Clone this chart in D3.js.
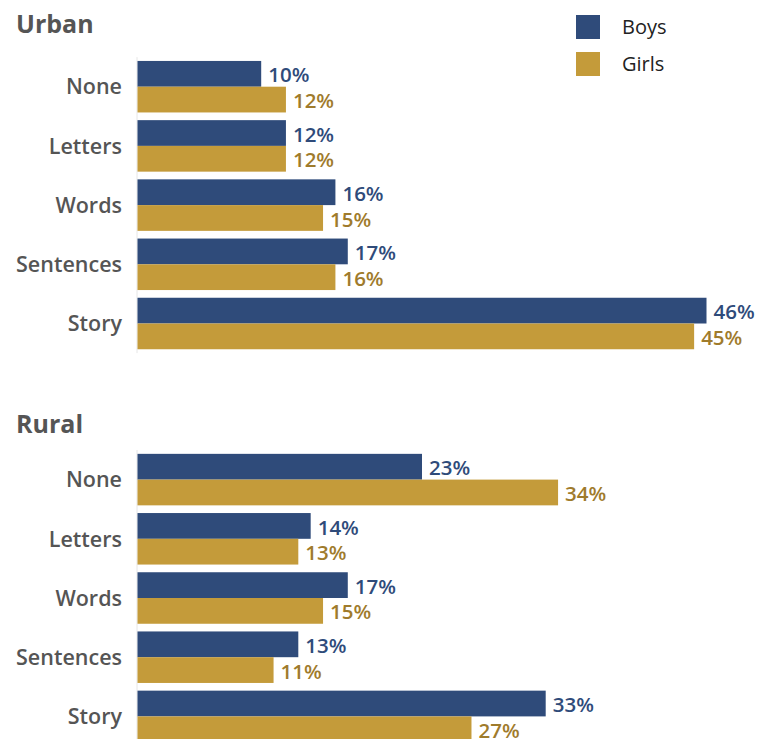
<!DOCTYPE html>
<html lang="en">
<head>
  <meta charset="utf-8">
  <title>Reading level by location</title>
  <script src="https://d3js.org/d3.v7.min.js"></script>
  <style>
    body { margin: 0; background: #fff; }
    text { font-family: "Open Sans", sans-serif; }
  </style>
</head>
<body>
<script>
// data
var categories = ["None", "Letters", "Words", "Sentences", "Story"];
var series = ["Boys", "Girls"];
var urbanBoys = [10, 12, 16, 17, 46];
var urbanGirls = [12, 12, 15, 16, 45];
var ruralBoys = [23, 14, 17, 13, 33];
var ruralGirls = [34, 13, 15, 11, 27];

var colors = {Boys: "#2f4b7a", Girls: "#c49b3a"};
var labelColors = {Boys: "#2f4b7a", Girls: "#9f7b2c"};

var width = 760, height = 739;
var axisX = 137.5;

var svg = d3.select("body")
  .append("svg")
  .attr("width", width)
  .attr("height", height);

// shared x scale (percent -> px)
var xScale = d3.scaleLinear()
  .domain([0, 46])
  .range([axisX, axisX + 569]);

function drawPanel(title, titleY, y0, y1, boys, girls) {
  var g = svg.append("g");

  g.append("text")
    .attr("x", 16)
    .attr("y", titleY)
    .attr("fill", "#555")
    .attr("font-size", "25px")
    .attr("font-weight", 700)
    .text(title);

  var yScale = d3.scaleBand()
    .domain(categories)
    .range([y0, y1])
    .paddingInner(0.13)
    .paddingOuter(0.065);

  var ySub = d3.scaleBand()
    .domain(series)
    .range([0, yScale.bandwidth()]);

  // thin axis line
  g.append("line")
    .attr("x1", axisX - 0.5).attr("x2", axisX - 0.5)
    .attr("y1", y0).attr("y2", y1)
    .attr("stroke", "#e6e6e6")
    .attr("stroke-width", 1);

  var rows = categories.map(function(c, i) {
    return {cat: c, values: [{s: "Boys", v: boys[i]}, {s: "Girls", v: girls[i]}]};
  });

  var row = g.selectAll(".row")
    .data(rows)
    .enter()
    .append("g")
    .attr("class", "row")
    .attr("transform", function(d) { return "translate(0," + yScale(d.cat) + ")"; });

  row.append("text")
    .attr("x", 122)
    .attr("y", yScale.bandwidth() / 2)
    .attr("dy", "0.36em")
    .attr("text-anchor", "end")
    .attr("fill", "#555")
    .attr("font-size", "21.5px")
    .attr("font-weight", 600)
    .text(function(d) { return d.cat; });

  row.selectAll("rect")
    .data(function(d) { return d.values; })
    .enter()
    .append("rect")
    .attr("x", xScale(0))
    .attr("y", function(d) { return ySub(d.s); })
    .attr("width", function(d) { return xScale(d.v) - xScale(0); })
    .attr("height", ySub.bandwidth())
    .attr("fill", function(d) { return colors[d.s]; });

  row.selectAll(".val")
    .data(function(d) { return d.values; })
    .enter()
    .append("text")
    .attr("class", "val")
    .attr("x", function(d) { return xScale(d.v) + 7; })
    .attr("y", function(d) { return ySub(d.s) + ySub.bandwidth() / 2; })
    .attr("dy", "0.42em")
    .attr("fill", function(d) { return labelColors[d.s]; })
    .attr("font-size", "20.5px")
    .attr("font-weight", 600)
    .text(function(d) { return d.v + "%"; });
}

drawPanel("Urban", 33, 57.1, 353.1, urbanBoys, urbanGirls);
drawPanel("Rural", 433, 450, 746, ruralBoys, ruralGirls);

// legend
var legend = svg.selectAll(".legend")
  .data(series)
  .enter()
  .append("g")
  .attr("class", "legend")
  .attr("transform", function(d, i) { return "translate(576," + (15 + i * 37) + ")"; });

legend.append("rect")
  .attr("width", 24)
  .attr("height", 24)
  .attr("fill", function(d) { return colors[d]; });

legend.append("text")
  .attr("x", 46)
  .attr("y", 12)
  .attr("dy", "0.36em")
  .attr("fill", "#222")
  .attr("font-size", "20px")
  .text(function(d) { return d; });
</script>
</body>
</html>
